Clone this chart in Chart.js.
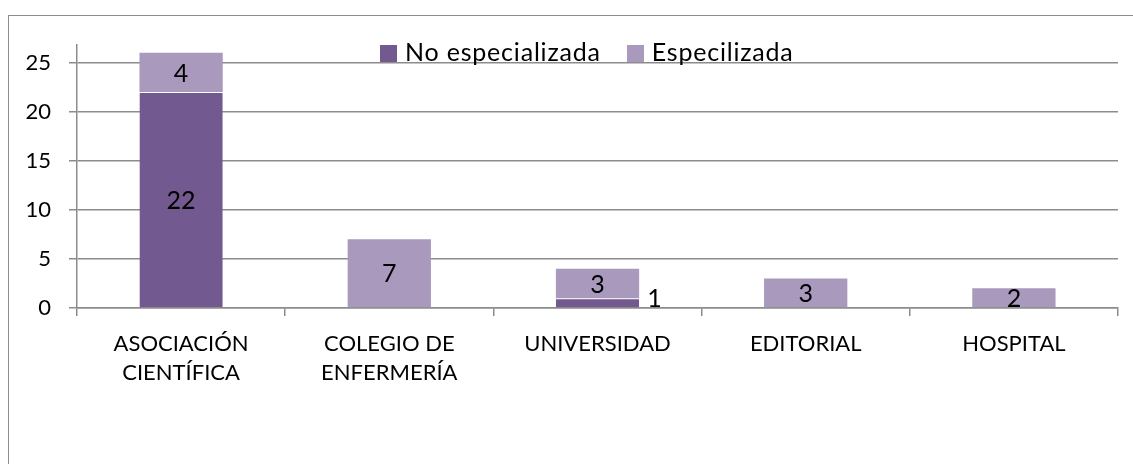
<!DOCTYPE html>
<html>
<head>
<meta charset="utf-8">
<script src="https://cdn.jsdelivr.net/npm/chart.js@4/dist/chart.umd.min.js"></script>
<style>
  html, body { margin: 0; padding: 0; background: #fff; overflow: hidden; }
  #wrap { position: relative; width: 1133px; height: 464px; overflow: hidden; }
  #frame { position: absolute; left: 8px; top: 15px; width: 2000px; height: 2000px; border: 1px solid #8c8c8c; box-sizing: border-box; }
  canvas { position: absolute; left: 0; top: 0; }
  #legend { position: absolute; left: 380px; top: 35px; font-family: Lato, sans-serif; font-size: 25px; letter-spacing: 0.8px; color: #000; white-space: nowrap; line-height: 32px; }
  #legend span.item { display: inline-block; margin-right: 26px; }
  #legend span.sw { display: inline-block; width: 17px; height: 17px; margin-right: 8px; vertical-align: -1px; }
</style>
</head>
<body>
<div id="wrap">
  <div id="frame"></div>
  <canvas id="c" width="1133" height="464"></canvas>
  <div id="legend"></div>
</div>
<script>
const categories = [["ASOCIACIÓN", "CIENTÍFICA"], ["COLEGIO DE", "ENFERMERÍA"], "UNIVERSIDAD", "EDITORIAL", "HOSPITAL"];
const seriesNames = ["No especializada", "Especilizada"];
const noEspecializada = [22, 0, 1, 0, 0];
const especializada = [4, 7, 3, 3, 2];
const yTicks = [0, 5, 10, 15, 20, 25];
const colors = ["#725a90", "#a899bd"];

// HTML legend
const legendEl = document.getElementById('legend');
seriesNames.forEach((n, i) => {
  const it = document.createElement('span'); it.className = 'item';
  const sw = document.createElement('span'); sw.className = 'sw'; sw.style.background = colors[i];
  it.appendChild(sw); it.appendChild(document.createTextNode(n));
  legendEl.appendChild(it);
});

const valueLabels = {
  id: 'valueLabels',
  afterDatasetsDraw(chart) {
    const ctx = chart.ctx;
    ctx.save();
    ctx.font = '25px Lato, sans-serif';
    ctx.fillStyle = '#000';
    ctx.textBaseline = 'middle';
    chart.data.datasets.forEach((ds, di) => {
      const meta = chart.getDatasetMeta(di);
      meta.data.forEach((el, i) => {
        const v = ds.data[i];
        if (!v) return;
        const cy = (el.y + el.base) / 2;
        const h = Math.abs(el.base - el.y);
        if (h < 12) {
          ctx.textAlign = 'left';
          ctx.fillText(String(v), el.x + el.width / 2 + 8, cy - 4);
        } else {
          ctx.textAlign = 'center';
          ctx.fillText(String(v), el.x, cy + 1);
        }
      });
    });
    ctx.restore();
  }
};

new Chart(document.getElementById('c'), {
  type: 'bar',
  data: {
    labels: categories,
    datasets: [
      { label: seriesNames[0], data: noEspecializada, backgroundColor: colors[0],
        borderColor: 'rgba(255,255,255,0.25)', borderWidth: {top: 1, left: 0, right: 0, bottom: 0}, borderSkipped: 'start' },
      { label: seriesNames[1], data: especializada, backgroundColor: colors[1], borderWidth: 0 }
    ]
  },
  options: {
    responsive: false,
    animation: false,
    layout: { padding: { left: 0, right: 15, top: 45, bottom: 0 } },
    plugins: { legend: { display: false }, tooltip: { enabled: false } },
    datasets: { bar: { categoryPercentage: 1.0, barPercentage: 0.4 } },
    scales: {
      x: {
        stacked: true,
        grid: { drawOnChartArea: false, drawTicks: true, tickLength: 8, color: '#8c8c8c', lineWidth: 1.5 },
        border: { display: true, color: '#8c8c8c', width: 1.5 },
        ticks: { font: { family: 'Lato', size: 22, lineHeight: 1.3 }, color: '#000', padding: 14, maxRotation: 0, autoSkip: false },
        afterFit(s) { s.height = 156; }
      },
      y: {
        stacked: true,
        min: 0,
        max: 26.8,
        afterBuildTicks(s) { s.ticks = yTicks.map(v => ({ value: v })); },
        grid: { color: '#8c8c8c', lineWidth: 1.5, tickLength: 8, drawTicks: true },
        border: { display: true, color: '#8c8c8c', width: 1.5 },
        ticks: { font: { family: 'Lato', size: 22 }, color: '#000', padding: 18 },
        afterFit(s) { s.width = 77; }
      }
    }
  },
  plugins: [valueLabels]
});
</script>
</body>
</html>
